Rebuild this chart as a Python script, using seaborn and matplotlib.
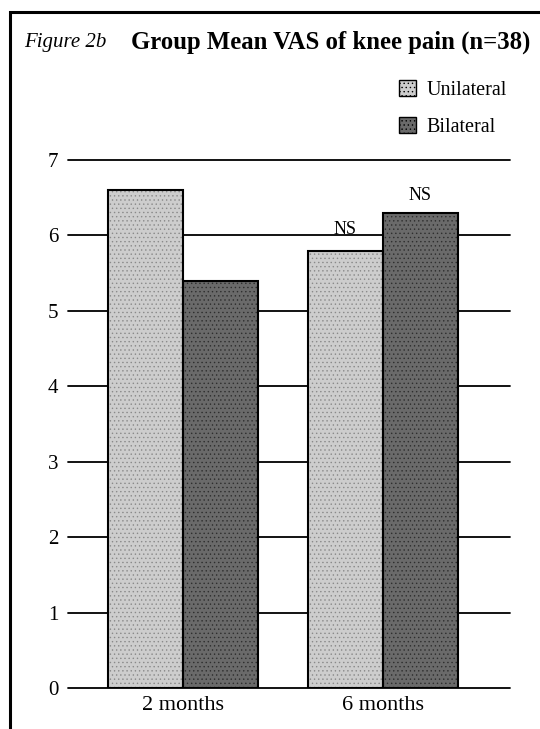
import matplotlib
matplotlib.use("Agg")
import matplotlib.pyplot as plt
import seaborn as sns
import pandas as pd
from matplotlib.patches import Rectangle, Patch

categories = ["2 months", "6 months"]
groups = ["Unilateral", "Bilateral"]
unilateral = [6.6, 5.8]
bilateral = [5.4, 6.3]
yticks = [0, 1, 2, 3, 4, 5, 6, 7]
annotations = ["", "NS"]  # unilateral
annotations_b = ["", "NS"]  # bilateral

df = pd.DataFrame({
    "time": categories * 2,
    "group": [groups[0]] * 2 + [groups[1]] * 2,
    "vas": unilateral + bilateral,
})

sns.set_theme(style="white")
plt.rcParams['font.family'] = ['Liberation Serif', 'DejaVu Serif']
plt.rcParams['hatch.linewidth'] = 0.5
plt.rcParams['text.color'] = 'black'
plt.rcParams['xtick.color'] = 'black'
plt.rcParams['ytick.color'] = 'black'

fig = plt.figure(figsize=(5.4, 7.29), dpi=100)
ax = fig.add_axes([68/540, 1-688/729, (510-68)/540, (688-160)/729])

palette = {"Unilateral": "#cdcdcd", "Bilateral": "#6a6a6a"}
hatch_col = {"Unilateral": "#8a8a8a", "Bilateral": "#2e2e2e"}
sns.barplot(data=df, x="time", y="vas", hue="group", order=categories,
            hue_order=groups, palette=palette, width=0.75, saturation=1,
            linewidth=0, ax=ax, legend=False, zorder=3)

n = len(categories)
bars_u = list(ax.patches[:n])
bars_b = list(ax.patches[n:2*n])
for bars, g in ((bars_u, groups[0]), (bars_b, groups[1])):
    for p in bars:
        p.set_hatch("....")
        p.set_edgecolor(hatch_col[g])
        p.set_linewidth(0)
        p.set_zorder(3)
        outline = Rectangle((p.get_x(), p.get_y()), p.get_width(), p.get_height(),
                            fill=False, edgecolor="black", lw=1.5, zorder=4)
        ax.add_patch(outline)

ax.set_ylim(0, 7)
ax.set_xlim(-0.575, 1.635)
ax.set_yticks(yticks)
ax.set_yticklabels([str(t) for t in yticks], fontsize=15)
ax.set_xticks(range(len(categories)))
ax.set_xticklabels(categories, fontsize=16)
ax.tick_params(axis='y', length=0, pad=7, labelcolor='black')
ax.tick_params(axis='x', length=0, pad=6, labelcolor='black')
for t in yticks:
    ax.axhline(t, color="black", lw=1.3, zorder=1, clip_on=False)
for s in ax.spines.values():
    s.set_visible(False)
ax.set_xlabel("")
ax.set_ylabel("")
ax.patch.set_alpha(0)

# NS annotations
for bar, txt in zip(bars_u, annotations):
    if txt:
        ax.text(bar.get_x() + bar.get_width()/2, bar.get_height() + 0.17, txt,
                ha="center", va="bottom", fontsize=13, color="black")
for bar, txt in zip(bars_b, annotations_b):
    if txt:
        ax.text(bar.get_x() + bar.get_width()/2, bar.get_height() + 0.12, txt,
                ha="center", va="bottom", fontsize=13, color="black")

# frame
fig.patches.append(Rectangle((10/540, -0.05), 1.2, 1 - 12/729 + 0.05,
                             transform=fig.transFigure, fill=False,
                             edgecolor="black", lw=2.2))

# title
fig.text(24/540, 1-42/729, "Figure 2b", fontsize=15, style="italic",
         va="center", ha="left", color="black")
fig.text(131/540, 1-42/729, "Group Mean VAS of knee pain (n=38)", fontsize=17.8,
         weight="bold", va="center", ha="left", color="black")

# legend
handles = [Patch(facecolor=palette[g], edgecolor="black", lw=1, hatch="....")
           for g in groups]
leg = fig.legend(handles, groups, loc="upper left",
                 bbox_to_anchor=(381/540, 1-62/729), frameon=False,
                 fontsize=14.5, handlelength=0.85, handleheight=0.85,
                 handletextpad=0.5, labelspacing=0.85, labelcolor="black")

fig.savefig("out.png", dpi=100, facecolor="white")
